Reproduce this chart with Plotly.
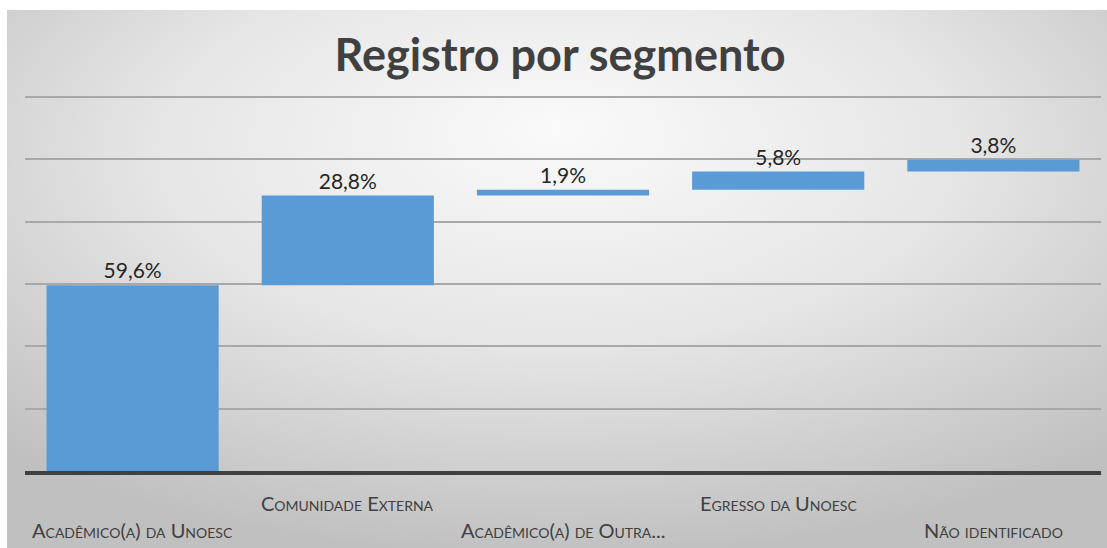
import base64
import plotly.graph_objects as go

# ---- data ----
categories = [
    "Acadêmico(a) da Unoesc",
    "Comunidade Externa",
    "Acadêmico(a) de Outra...",
    "Egresso da Unoesc",
    "Não identificado",
]
values = [59.6, 28.8, 1.9, 5.8, 3.8]
label_rows = ["low", "high", "low", "high", "low"]
y_ticks = [0, 20, 40, 60, 80, 100, 120]
title_text = "Registro por segmento"

# ---- styles ----
BAR = "#5b9bd5"
TXT = "#404040"
FONT = "Lato"
W, H = 1107, 548
ML, MR, MT, MB = 25, 6, 94, 77
PW, PH = W - ML - MR, H - MT - MB

texts = [f"{v:.1f}%".replace(".", ",") for v in values]

fig = go.Figure(
    go.Waterfall(
        x=categories,
        y=values,
        measure=["relative"] * len(values),
        text=texts,
        textposition="outside",
        textfont=dict(family=FONT, size=21, color="#262626"),
        increasing=dict(marker=dict(color=BAR, line=dict(width=0))),
        decreasing=dict(marker=dict(color=BAR, line=dict(width=0))),
        totals=dict(marker=dict(color=BAR, line=dict(width=0))),
        connector=dict(visible=False),
        cliponaxis=False,
        hoverinfo="skip",
    )
)

# background gradient (radial, light centre, grey edges)
svg = f"""<svg xmlns='http://www.w3.org/2000/svg' width='1100' height='538' viewBox='0 0 1100 538' preserveAspectRatio='none'>
<defs><radialGradient id='g' cx='50%' cy='30%' r='72%' fx='50%' fy='22%'>
<stop offset='0' stop-color='#fafafa'/><stop offset='0.5' stop-color='#e6e6e6'/><stop offset='1' stop-color='#c0c0c0'/>
</radialGradient></defs><rect width='1100' height='538' fill='url(#g)'/></svg>"""
src = "data:image/svg+xml;base64," + base64.b64encode(svg.encode()).decode()
x0 = (7 - ML) / PW
x1 = (W - ML) / PW
y_top = (H - MB - 10) / PH
y_bot = (H - MB - H) / PH
fig.add_layout_image(
    source=src, xref="paper", yref="paper", x=x0, y=y_top,
    sizex=x1 - x0, sizey=y_top - y_bot, xanchor="left", yanchor="top",
    sizing="stretch", layer="below",
)

# staggered category labels
row_y = {"high": (H - MB - 503) / PH, "low": (H - MB - 530) / PH}
for cat, row in zip(categories, label_rows):
    fig.add_annotation(
        x=cat, xref="x", y=row_y[row], yref="paper", text=cat, showarrow=False,
        xanchor="center", yanchor="middle",
        font=dict(family=FONT, size=20, color=TXT, variant="small-caps"),
    )

fig.update_layout(
    width=W, height=H,
    margin=dict(l=ML, r=MR, t=MT, b=MB),
    paper_bgcolor="white",
    plot_bgcolor="rgba(0,0,0,0)",
    showlegend=False,
    bargap=0.2,
    title=dict(
        text=f"<b>{title_text}</b>", x=560 / W, xref="container", xanchor="center",
        y=1 - 55 / H, yref="container", yanchor="middle",
        font=dict(family=FONT, size=45, color=TXT),
    ),
    xaxis=dict(
        showticklabels=False, showgrid=False, ticks="",
        showline=True, linecolor="#404040", linewidth=3.5, zeroline=False,
    ),
    yaxis=dict(
        range=[0, 121], tickvals=y_ticks, showticklabels=False, ticks="",
        showgrid=True, gridcolor="#a8a8a8", gridwidth=1.5,
        zeroline=False, showline=False,
    ),
)

fig.write_html(
    "out.html",
    config={"displayModeBar": False},
    post_script="document.body.style.margin='0';",
)
